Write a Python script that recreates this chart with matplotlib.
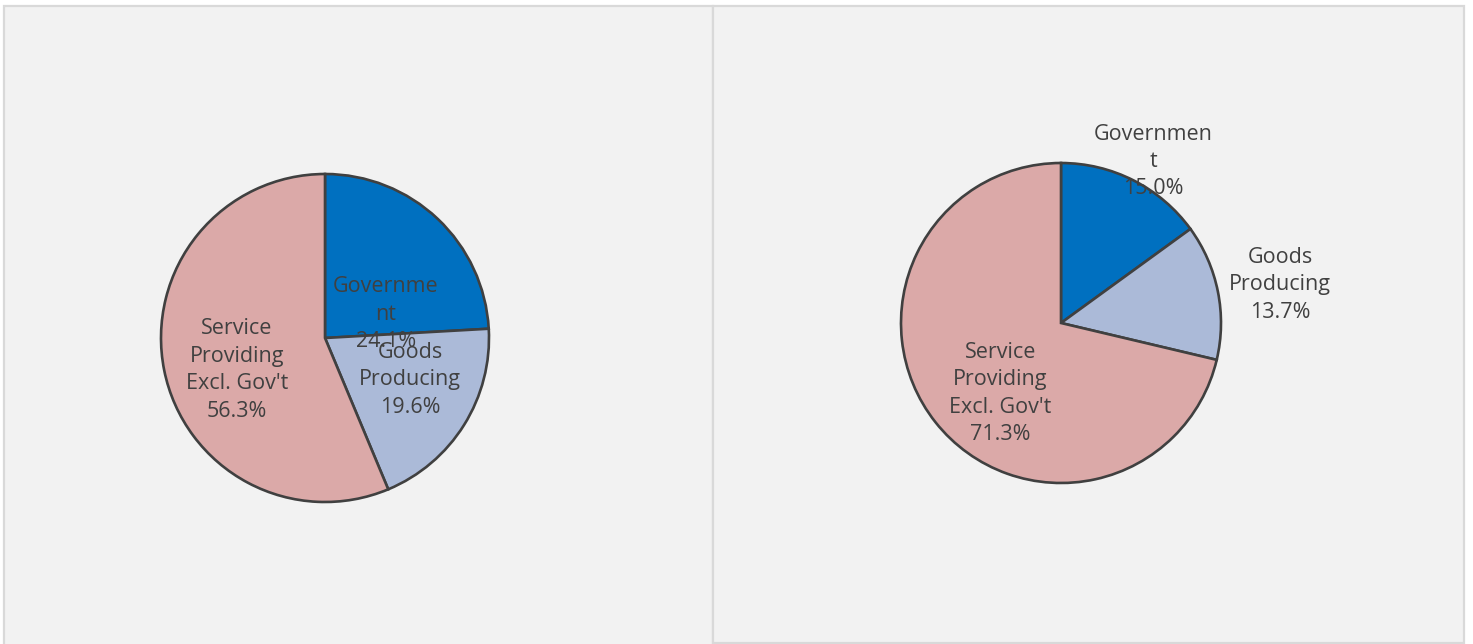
import matplotlib
matplotlib.use("Agg")
import matplotlib.pyplot as plt
from matplotlib.patches import Rectangle

W, H = 1473, 644

labels_left = ["Governme\nnt", "Goods\nProducing", "Service\nProviding\nExcl. Gov't"]
shares_left = [24.1, 19.6, 56.3]
labels_right = ["Governmen\nt", "Goods\nProducing", "Service\nProviding\nExcl. Gov't"]
shares_right = [15.0, 13.7, 71.3]

colors = ["#0070c0", "#abbad8", "#dba9a8"]
edge = "#404040"
text_color = "#404040"

# label spots in pie-radius units (as placed in the original)
pos_left = [(0.37, 0.146), (0.52, -0.256), (-0.537, -0.195)]
pos_right = [(0.575, 1.01), (1.37, 0.24), (-0.38, -0.44)]

plt.rcParams['font.family'] = ['Open Sans', 'DejaVu Sans']

fig = plt.figure(figsize=(W / 100, H / 100), dpi=100)
fig.patch.set_facecolor("white")

# panel backgrounds
def panel(x0, y0, x1, y1):
    fig.patches.append(Rectangle((x0 / W, 1 - y1 / H), (x1 - x0) / W, (y1 - y0) / H,
                                 transform=fig.transFigure, facecolor="#f2f2f2",
                                 edgecolor="#d9d9d9", linewidth=1.6, zorder=-5))

panel(4, 6, 713, 660)
panel(713, 6, 1464, 643)


def draw_pie(cx, cy, r, shares, labels, pos):
    ax = fig.add_axes([(cx - r) / W, (H - cy - r) / H, 2 * r / W, 2 * r / H])
    ax.pie(shares, colors=colors, startangle=90, counterclock=False,
           wedgeprops=dict(edgecolor=edge, linewidth=1.9))
    ax.set_xlim(-1, 1)
    ax.set_ylim(-1, 1)
    ax.set_aspect("equal")
    ax.axis("off")
    for lab, val, (x, y) in zip(labels, shares, pos):
        ax.text(x, y, f"{lab}\n{val:.1f}%", ha="center", va="center",
                fontsize=15.5, color=text_color, linespacing=1.4, clip_on=False)


draw_pie(325, 338, 164, shares_left, labels_left, pos_left)
draw_pie(1061, 323, 160, shares_right, labels_right, pos_right)

fig.savefig("out.png", dpi=100)
